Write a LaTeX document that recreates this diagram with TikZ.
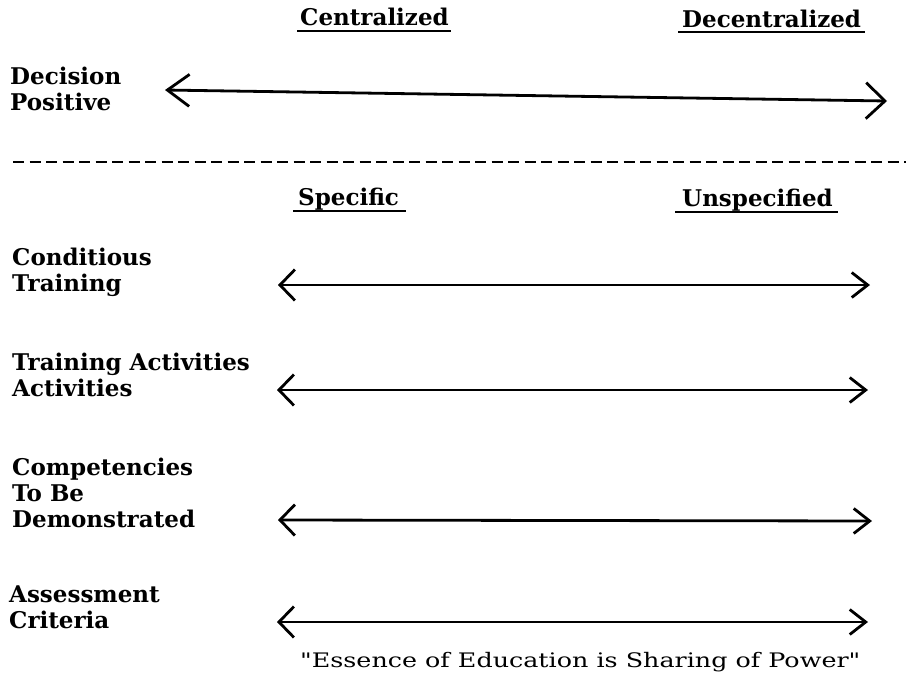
\documentclass[tikz,border=0pt]{standalone}
\usepackage{fontspec}
\setmainfont{DejaVu Serif}
\newfontfamily\labelfont{DejaVu Serif}
\newfontfamily\quotefont{DejaVu Serif}[FakeStretch=1.27]
\usetikzlibrary{arrows.meta}

\tikzset{
  rowlabel/.style={anchor=base west, inner sep=0pt, align=left,
    font=\labelfont\bfseries\fontsize{23}{26}\selectfont},
  heading/.style={anchor=base west, inner sep=0pt,
    font=\labelfont\bfseries\fontsize{23}{26}\selectfont},
  uline/.style={line width=2.5pt},
  scalearrow/.style={line width=2.8pt,
    {Straight Barb[length=15pt,width=31pt]}-{Straight Barb[length=16pt,width=25pt]}},
  widearrow/.style={line width=2.8pt,
    {Straight Barb[length=22pt,width=32pt]}-{Straight Barb[length=19pt,width=36pt]}},
  divider/.style={line width=2.6pt, dash pattern=on 11pt off 5.5pt},
  motto/.style={anchor=base west, inner sep=0pt,
    font=\quotefont\fontsize{20}{24}\selectfont},
}

\begin{document}
\begin{tikzpicture}[x=1pt,y=-1pt]
\useasboundingbox (0,0) rectangle (906,673);

% column headings of the top scale
\node[heading] (cent) at (300,25) {Centralized};
\node[heading] (decent) at (682,27) {Decentralized};
\draw[uline] ([xshift=-3pt,yshift=-6pt]cent.base west) -- ([xshift=2pt,yshift=-6pt]cent.base east);
\draw[uline] ([xshift=-4pt,yshift=-5pt]decent.base west) -- ([xshift=4pt,yshift=-5pt]decent.base east);

% top scale (multi-line labels sit on the baseline of their last line)
\node[rowlabel] (dec) at (10,110) {Decision\\Positive};
\coordinate (d1l) at (165,90);
\coordinate (d1r) at (887,101);
\draw[widearrow] (d1l) -- (d1r);

% separator
\coordinate (sepl) at (13,162);
\coordinate (sepr) at (906,162);
\draw[divider] (sepl) -- (sepr);

% column headings of the lower scales
\node[heading] (spec) at (298,205) {Specific};
\node[heading] (unspec) at (682,206) {Unspecified};
\draw[uline] ([xshift=-5pt,yshift=-6pt]spec.base west) -- ([xshift=7pt,yshift=-6pt]spec.base east);
\draw[uline] ([xshift=-7pt,yshift=-6pt]unspec.base west) -- ([xshift=5pt,yshift=-6pt]unspec.base east);

% lower scales
\node[rowlabel] (cond) at (12,291) {Conditious\\Training};
\coordinate (d2l) at (278,285);
\coordinate (d2r) at (870,285);
\draw[scalearrow] (d2l) -- (d2r);

\node[rowlabel] (act) at (12,396) {Training Activities\\Activities};
\coordinate (d3l) at (277,390);
\coordinate (d3r) at (868,390);
\draw[scalearrow] (d3l) -- (d3r);

\node[rowlabel] (comp) at (12,527) {Competencies\\To Be\\Demonstrated};
\coordinate (d4l) at (278,520);
\coordinate (d4r) at (872,521);
\draw[scalearrow] (d4l) -- (d4r);

\node[rowlabel] (assess) at (9,628) {Assessment\\Criteria};
\coordinate (d5l) at (277,622);
\coordinate (d5r) at (868,622);
\draw[scalearrow] (d5l) -- (d5r);

% motto
\node[motto] (motto) at (300,667) {"Essence of Education is Sharing of Power"};
\end{tikzpicture}
\end{document}
